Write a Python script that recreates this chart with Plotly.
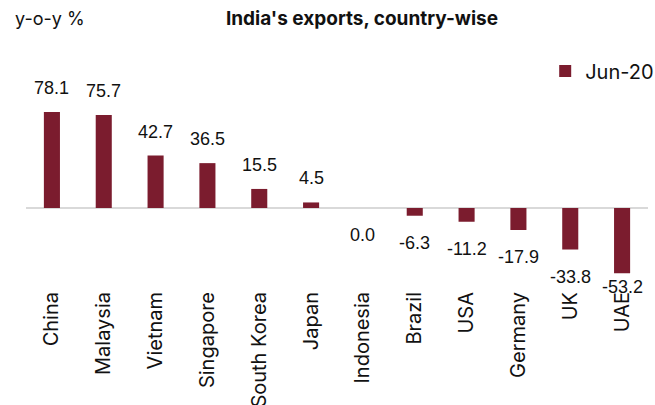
import plotly.graph_objects as go

countries = ["China", "Malaysia", "Vietnam", "Singapore", "South Korea", "Japan",
             "Indonesia", "Brazil", "USA", "Germany", "UK", "UAE"]
yoy_jun20 = [78.1, 75.7, 42.7, 36.5, 15.5, 4.5, 0.0, -6.3, -11.2, -17.9, -33.8, -53.2]
series_name = "Jun-20"
title_text = "<b>India's exports, country-wise</b>"
unit_text = "y-o-y %"

BAR = "#7B1C2E"
FONT = "Liberation Sans, Arial, sans-serif"
FONT2 = "Inter, Liberation Sans, sans-serif"

W, H = 655, 405
M_L, M_R, M_T, M_B = 26, 7, 40, 118
y_range = [-64.3, 136.7]
plot_h = H - M_T - M_B
plot_w = W - M_L - M_R
px_per_unit = plot_h / (y_range[1] - y_range[0])

fig = go.Figure()
fig.add_trace(go.Bar(
    x=countries, y=yoy_jun20, name=series_name,
    marker=dict(color=BAR, line=dict(width=0)),
    width=0.31, showlegend=True,
))

annotations = []
for c, v in zip(countries, yoy_jun20):
    if v > 0:
        ys = 24
    else:
        room = (v - y_range[0]) * px_per_unit
        ys = -min(27, room)
    annotations.append(dict(
        x=c, y=v, xref="x", yref="y", text=f"{v:.1f}", showarrow=False,
        yshift=ys, yanchor="middle", xanchor="center",
        font=dict(family=FONT, size=18, color="#111111"),
    ))

annotations.append(dict(
    x=(13 - M_L) / plot_w, y=1 + (M_T - 18) / plot_h, xref="paper", yref="paper",
    text=unit_text, showarrow=False, xanchor="left", yanchor="middle",
    font=dict(family=FONT2, size=18, color="#111111"),
))

fig.update_layout(
    width=W, height=H,
    margin=dict(l=M_L, r=M_R, t=M_T, b=M_B, autoexpand=False),
    paper_bgcolor="white", plot_bgcolor="white",
    font=dict(family=FONT2, size=18, color="#111111"),
    title=dict(text=title_text, x=362 / W, xanchor="center", y=1 - 18 / H, yanchor="middle",
               font=dict(family=FONT2, size=19, color="#111111")),
    xaxis=dict(tickangle=-90, showgrid=False, showline=False, ticks="",
               tickfont=dict(family=FONT2, size=20, color="#111111"), automargin=False),
    yaxis=dict(range=y_range, showgrid=False, showticklabels=False, ticks="",
               zeroline=True, zerolinecolor="#d9d9d9", zerolinewidth=2, automargin=False),
    legend=dict(x=1.018, xanchor="right", y=1 - (71 - M_T) / plot_h, yanchor="middle",
                font=dict(family=FONT2, size=20, color="#111111"), bgcolor="rgba(0,0,0,0)"),
    annotations=annotations,
)

fig.write_html("out.html")
